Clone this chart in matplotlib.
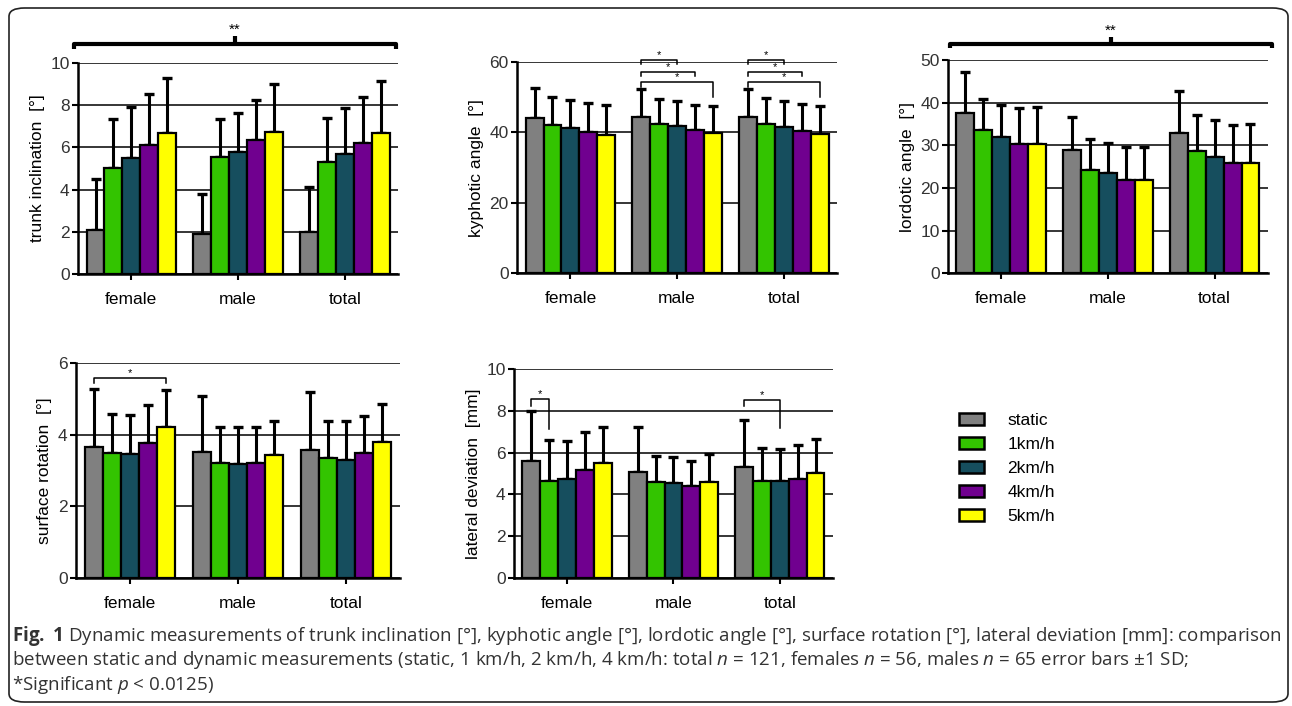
import numpy as np
import matplotlib
matplotlib.use("Agg")
import matplotlib.pyplot as plt
from matplotlib.patches import FancyBboxPatch, Patch

plt.rcParams['font.family'] = ['Liberation Sans', 'DejaVu Sans']
plt.rcParams['mathtext.fontset'] = 'custom'
plt.rcParams['mathtext.rm'] = 'Open Sans'
plt.rcParams['mathtext.it'] = 'Open Sans:italic'
plt.rcParams['mathtext.bf'] = 'Open Sans:bold'

groups = ["female", "male", "total"]
speeds = ["static", "1km/h", "2km/h", "4km/h", "5km/h"]
colors = ["#808080", "#33c400", "#164e5e", "#70008f", "#ffff00"]

# rows: female, male, total; columns: static, 1, 2, 4, 5 km/h
trunk_mean = [[2.1, 5.0, 5.5, 6.1, 6.7],
              [1.9, 5.55, 5.8, 6.35, 6.75],
              [2.0, 5.3, 5.7, 6.2, 6.7]]
trunk_sd = [[2.4, 2.35, 2.4, 2.45, 2.6],
            [1.9, 1.8, 1.85, 1.9, 2.25],
            [2.1, 2.1, 2.15, 2.2, 2.45]]

kyph_mean = [[44.1, 42.2, 41.1, 40.1, 39.2],
             [44.5, 42.5, 41.7, 40.7, 39.7],
             [44.3, 42.4, 41.4, 40.3, 39.5]]
kyph_sd = [[8.5, 7.9, 8.1, 8.3, 8.5],
           [7.9, 7.1, 7.3, 7.2, 7.7],
           [8.1, 7.4, 7.6, 7.8, 8.1]]

lord_mean = [[37.5, 33.7, 32.0, 30.2, 30.3],
             [29.0, 24.3, 23.4, 21.9, 21.9],
             [33.0, 28.7, 27.3, 25.8, 25.9]]
lord_sd = [[9.8, 7.2, 7.5, 8.5, 8.8],
           [7.7, 7.1, 7.1, 7.8, 7.8],
           [9.7, 8.5, 8.6, 8.9, 9.1]]

surf_mean = [[3.64, 3.48, 3.45, 3.76, 4.22],
             [3.52, 3.22, 3.17, 3.22, 3.43],
             [3.57, 3.34, 3.30, 3.48, 3.78]]
surf_sd = [[1.62, 1.09, 1.10, 1.05, 1.02],
           [1.55, 0.98, 1.03, 0.98, 0.96],
           [1.61, 1.05, 1.09, 1.04, 1.07]]

lat_mean = [[5.58, 4.66, 4.72, 5.17, 5.52],
            [5.06, 4.61, 4.56, 4.40, 4.59],
            [5.31, 4.66, 4.63, 4.75, 5.01]]
lat_sd = [[2.39, 1.94, 1.81, 1.81, 1.71],
          [2.14, 1.22, 1.24, 1.21, 1.34],
          [2.24, 1.56, 1.55, 1.59, 1.62]]

# pairwise significance: (group, bar a, bar b, bracket level, leg end a, leg end b)
kyph_sig = [(1, 0, 2, 60.5, 59.4, 59.4), (1, 0, 3, 57.2, 56.0, 56.0), (1, 0, 4, 54.4, 52.8, 49.9),
            (2, 0, 2, 60.5, 59.4, 59.4), (2, 0, 3, 57.2, 56.0, 56.0), (2, 0, 4, 54.4, 52.8, 49.9)]
surf_sig = [(0, 0, 4, 5.56, 5.43, 5.43)]
lat_sig = [(0, 0, 1, 8.54, 8.22, 7.1), (2, 0, 2, 8.5, 8.22, 7.15)]

W = 0.168
FS = 12.5


def bar_x(g, i):
    return g + (i - 2) * W


def draw_panel(ax, means, sds, ylabel, ymax, step):
    means = np.array(means)
    sds = np.array(sds)
    x = np.arange(len(groups))
    for i, col in enumerate(colors):
        pos = x + (i - 2) * W
        ax.bar(pos, means[:, i], W, color=col, edgecolor='black', linewidth=1.6, zorder=3)
        ax.errorbar(pos, means[:, i], yerr=[np.zeros(3), sds[:, i]], fmt='none',
                    ecolor='black', elinewidth=2.2, capsize=3.8, capthick=2.4, zorder=2)
    ax.set_xlim(-0.5, 2.5)
    ax.set_ylim(0, ymax)
    ax.set_yticks(np.arange(0, ymax + step / 2, step))
    ax.set_xticks(x)
    ax.set_xticklabels(groups, fontsize=FS)
    ax.tick_params(axis='y', labelsize=FS, length=4, width=1.5, pad=2, labelcolor='#333333')
    ax.tick_params(axis='x', length=4, width=1.5, pad=9)
    ax.spines[['top', 'right']].set_visible(False)
    for s in ['left', 'bottom']:
        ax.spines[s].set_linewidth(1.8)
    ax.yaxis.grid(True, color='black', linewidth=1.1)
    ax.set_axisbelow(True)
    ax.set_ylabel(ylabel, fontsize=FS, labelpad=4)


def draw_sig(ax, sig, fs=8):
    for g, a, b, lvl, ea, eb in sig:
        xa, xb = bar_x(g, a), bar_x(g, b)
        ax.plot([xa, xa, xb, xb], [ea, lvl, lvl, eb], color='black', lw=1.1, clip_on=False, zorder=5)
        ax.text((xa + xb) / 2, lvl, '*', ha='center', va='bottom', fontsize=fs, clip_on=False)


def draw_big_bracket(ax, x0, x1, lvl, dn, up):
    ax.plot([x0, x0, x1, x1], [lvl - dn, lvl, lvl, lvl - dn], color='black', lw=3,
            clip_on=False, solid_capstyle='butt')
    xm = (x0 + x1) / 2
    ax.plot([xm, xm], [lvl, lvl + up], color='black', lw=3, clip_on=False, solid_capstyle='butt')
    ax.text(xm, lvl + up * 0.9, '**', ha='center', va='bottom', fontsize=11)


fig = plt.figure(figsize=(12.92, 7.06), dpi=100)

ax1 = fig.add_axes([0.0604, 0.6119, 0.2477, 0.2989])
draw_panel(ax1, trunk_mean, trunk_sd, "trunk inclination  [°]", 10, 2)
draw_big_bracket(ax1, -0.54, 2.48, 10.92, 0.25, 0.35)

ax2 = fig.add_axes([0.4002, 0.6129, 0.2477, 0.2994])
draw_panel(ax2, kyph_mean, kyph_sd, "kyphotic angle  [°]", 60, 20)
draw_sig(ax2, kyph_sig)

ax3 = fig.add_axes([0.7337, 0.6129, 0.2477, 0.3021])
draw_panel(ax3, lord_mean, lord_sd, "lordotic angle  [°]", 50, 10)
draw_big_bracket(ax3, -0.484, 2.536, 53.7, 1.0, 1.6)

ax4 = fig.add_axes([0.0588, 0.1809, 0.2508, 0.3054])
draw_panel(ax4, surf_mean, surf_sd, "surface rotation  [°]", 6, 2)
draw_sig(ax4, surf_sig)

ax5 = fig.add_axes([0.3978, 0.1809, 0.2469, 0.2969])
draw_panel(ax5, lat_mean, lat_sd, "lateral deviation  [mm]", 10, 2)
draw_sig(ax5, lat_sig)

handles = [Patch(facecolor=c, edgecolor='black', linewidth=1.8, label=s) for s, c in zip(speeds, colors)]
fig.legend(handles=handles, loc='upper left', bbox_to_anchor=(0.730, 0.437), frameon=False,
           fontsize=FS, handlelength=1.45, handleheight=0.65, labelspacing=0.52, handletextpad=1.35)

# rounded frame around figure and caption
frame = FancyBboxPatch((9 / 1292, 4 / 706), 1279 / 1292, 694 / 706, boxstyle="round,pad=0,rounding_size=0.012",
                       transform=fig.transFigure, facecolor='none', edgecolor='#222222', linewidth=1.2)
fig.patches.append(frame)

cap_kw = dict(fontsize=13.5, family='Open Sans', color='#333333', va='baseline', ha='left')
fig.text(12 / 1292, 1 - 641 / 706,
         r"$\mathbf{Fig.\ 1}$ Dynamic measurements of trunk inclination [°], kyphotic angle [°], "
         r"lordotic angle [°], surface rotation [°], lateral deviation [mm]: comparison", **cap_kw)
fig.text(12 / 1292, 1 - 665 / 706,
         r"between static and dynamic measurements (static, 1 km/h, 2 km/h, 4 km/h: total $n$ = 121, "
         r"females $n$ = 56, males $n$ = 65 error bars ±1 SD;", **cap_kw)
fig.text(12 / 1292, 1 - 690 / 706, r"*Significant $p$ < 0.0125)", **cap_kw)

fig.savefig("out.png", dpi=100)
